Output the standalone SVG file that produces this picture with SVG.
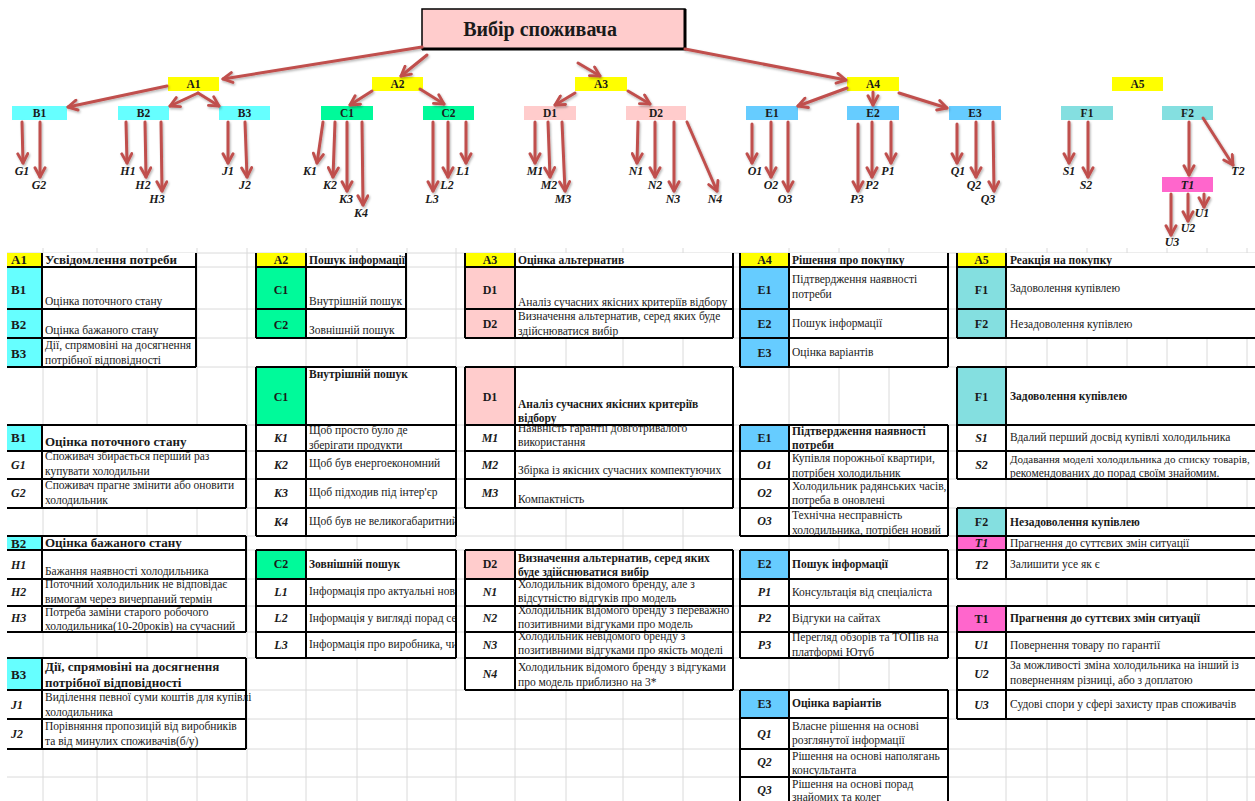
<svg xmlns="http://www.w3.org/2000/svg" width="1255" height="801" viewBox="0 0 1255 801">
<style>
.s{font-family:"Liberation Serif","Times New Roman",serif;fill:#1a1a1a}
.r{font-size:11.5px}
.hb{font-size:11.5px;font-weight:bold}
.h13{font-size:13px;font-weight:bold}
.pid{font-size:12px;font-weight:bold;text-anchor:middle}
.lid{font-size:12px;font-weight:bold;font-style:italic;text-anchor:middle}
.pidL{font-size:13px;font-weight:bold}
.lidL{font-size:12px;font-weight:bold;font-style:italic}
.nd{font-size:11.5px;font-weight:bold;text-anchor:middle}
.lf{font-size:12px;font-weight:bold;font-style:italic;text-anchor:middle}
.y{fill:#ffff00}.cy{fill:#66ffff}.gr{fill:#00fa9a}.pk{fill:#ffcccc}.bl{fill:#66ccff}.aq{fill:#84dfe0}.mg{fill:#ff66cc}.wh{fill:#fff}
.bd{fill:none;stroke:#000;stroke-width:2}
.grid{fill:none;stroke:#dadada;stroke-width:1}
.arr line{stroke:#c0504d;stroke-width:3;stroke-linecap:round;marker-end:url(#ah)}
</style>
<defs>
<marker id="ah" viewBox="0 0 10 10" refX="8.5" refY="5" markerWidth="4.4" markerHeight="4.4" orient="auto" markerUnits="strokeWidth">
<path d="M1.5,1.2 L8.5,5 L1.5,8.8" fill="none" stroke="#c0504d" stroke-width="2.2" stroke-linecap="round" stroke-linejoin="round"/>
</marker>
<filter id="sh" filterUnits="userSpaceOnUse" x="0" y="0" width="1255" height="260">
<feDropShadow dx="1" dy="1.5" stdDeviation="1" flood-color="#000" flood-opacity="0.3"/>
</filter>
<clipPath id="clipA2"><rect x="306" y="250" width="100" height="20"/></clipPath>
<clipPath id="clipC"><rect x="306" y="360" width="150" height="300"/></clipPath>
<clipPath id="clipD1h"><rect x="515" y="367" width="218" height="57"/></clipPath>
</defs>
<rect width="1255" height="801" fill="#fff"/>

<!-- spreadsheet gridlines -->
<path class="grid" d="M7,253H1255M7,267H1255M7,309H1255M7,338H1255M7,367H1255M7,425H1255M7,451H1255M7,479H1255M7,508H1255M7,536H1255M7,550H1255M7,579H1255M7,606H1255M7,632H1255M7,658H1255M7,690H1255M7,719H1255M7,749H1255M7,777H1255
M43,248V801M97,248V801M147,248V801M197,248V801M247,248V801M306,248V801M357,248V801M407,248V801M456,248V801M515,248V801M566,248V801M623,248V801M683,248V801M789,248V801M839,248V801M889,248V801M1006,248V801M1047,248V801M1087,248V801M1127,248V801M1167,248V801M1207,248V801M1247,248V801"/>

<!-- title -->
<g id="title">
<rect x="422" y="9" width="263" height="40" class="pk" stroke="#000" stroke-width="1.5"/>
<path d="M685,9V49H422" fill="none" stroke="#000" stroke-width="3"/>
<text class="s" x="540" y="36" font-size="20" font-weight="bold" text-anchor="middle">Вибір споживача</text>
</g>

<!-- tree nodes -->
<g id="n-a1"><rect class="y" x="168" y="77" width="51" height="14"/><text class="s nd" x="193.5" y="88">A1</text></g>
<g id="n-a2"><rect class="y" x="372" y="77" width="51" height="14"/><text class="s nd" x="397.5" y="88">A2</text></g>
<g id="n-a3"><rect class="y" x="575" y="77" width="52" height="14"/><text class="s nd" x="601" y="88">A3</text></g>
<g id="n-a4"><rect class="y" x="847" y="77" width="52" height="14"/><text class="s nd" x="873" y="88">A4</text></g>
<g id="n-a5"><rect class="y" x="1112" y="77" width="51" height="14"/><text class="s nd" x="1137.5" y="88">A5</text></g>
<g id="n-b1"><rect class="cy" x="12" y="106" width="55" height="14"/><text class="s nd" x="39.5" y="117">B1</text></g>
<g id="n-b2"><rect class="cy" x="118" y="106" width="51" height="14"/><text class="s nd" x="143.5" y="117">B2</text></g>
<g id="n-b3"><rect class="cy" x="219" y="106" width="51" height="14"/><text class="s nd" x="244.5" y="117">B3</text></g>
<g id="n-c1"><rect class="gr" x="321" y="106" width="52" height="14"/><text class="s nd" x="347" y="117">C1</text></g>
<g id="n-c2"><rect class="gr" x="423" y="106" width="51" height="14"/><text class="s nd" x="448.5" y="117">C2</text></g>
<g id="n-d1"><rect class="pk" x="524" y="106" width="52" height="14"/><text class="s nd" x="550" y="117">D1</text></g>
<g id="n-d2"><rect class="pk" x="626" y="106" width="60" height="14"/><text class="s nd" x="656" y="117">D2</text></g>
<g id="n-e1"><rect class="bl" x="746" y="106" width="52" height="14"/><text class="s nd" x="772" y="117">E1</text></g>
<g id="n-e2"><rect class="bl" x="847" y="106" width="52" height="14"/><text class="s nd" x="873" y="117">E2</text></g>
<g id="n-e3"><rect class="bl" x="949" y="106" width="52" height="14"/><text class="s nd" x="975" y="117">E3</text></g>
<g id="n-f1"><rect class="aq" x="1061" y="106" width="52" height="14"/><text class="s nd" x="1087" y="117">F1</text></g>
<g id="n-f2"><rect class="aq" x="1162" y="106" width="51" height="14"/><text class="s nd" x="1187.5" y="117">F2</text></g>
<g id="n-t1"><rect class="mg" x="1162" y="177" width="51" height="15"/><text class="s lf" x="1187.5" y="189">T1</text></g>

<!-- leaf labels -->
<g id="leaves">
<text class="s lf" x="22" y="175">G1</text><text class="s lf" x="39" y="189">G2</text>
<text class="s lf" x="128" y="175">H1</text><text class="s lf" x="143" y="189">H2</text><text class="s lf" x="157" y="203">H3</text>
<text class="s lf" x="228" y="175">J1</text><text class="s lf" x="245" y="189">J2</text>
<text class="s lf" x="310" y="175">K1</text><text class="s lf" x="330" y="189">K2</text><text class="s lf" x="346" y="203">K3</text><text class="s lf" x="361" y="217">K4</text>
<text class="s lf" x="463" y="175">L1</text><text class="s lf" x="447" y="189">L2</text><text class="s lf" x="432" y="203">L3</text>
<text class="s lf" x="535" y="175">M1</text><text class="s lf" x="549" y="189">M2</text><text class="s lf" x="563" y="203">M3</text>
<text class="s lf" x="636" y="175">N1</text><text class="s lf" x="655" y="189">N2</text><text class="s lf" x="673" y="203">N3</text><text class="s lf" x="715" y="203">N4</text>
<text class="s lf" x="755" y="175">O1</text><text class="s lf" x="771" y="189">O2</text><text class="s lf" x="785" y="203">O3</text>
<text class="s lf" x="888" y="175">P1</text><text class="s lf" x="872" y="189">P2</text><text class="s lf" x="857" y="203">P3</text>
<text class="s lf" x="958" y="175">Q1</text><text class="s lf" x="974" y="189">Q2</text><text class="s lf" x="988" y="203">Q3</text>
<text class="s lf" x="1069" y="175">S1</text><text class="s lf" x="1086" y="189">S2</text>
<text class="s lf" x="1238" y="175">T2</text>
<text class="s lf" x="1202" y="217">U1</text><text class="s lf" x="1188" y="232">U2</text><text class="s lf" x="1172" y="246">U3</text>
</g>

<!-- connectors -->
<g id="connectors" class="arr" filter="url(#sh)">
<line x1="422" y1="47" x2="223" y2="79"/>
<line x1="427" y1="55" x2="401" y2="76"/>
<line x1="578" y1="63" x2="600" y2="76"/>
<line x1="685" y1="49" x2="846" y2="80"/>
<line x1="167" y1="86" x2="68" y2="107"/>
<line x1="198" y1="93" x2="170" y2="106"/>
<line x1="198" y1="93" x2="219" y2="106"/>
<line x1="372" y1="91" x2="350" y2="105"/>
<line x1="420" y1="89" x2="444" y2="104"/>
<line x1="575" y1="93" x2="555" y2="105"/>
<line x1="628" y1="91" x2="650" y2="104"/>
<line x1="847" y1="88" x2="798" y2="106"/>
<line x1="873" y1="92" x2="873" y2="105"/>
<line x1="899" y1="93" x2="947" y2="108"/>
<line x1="22" y1="122" x2="23" y2="163"/>
<line x1="40" y1="122" x2="40" y2="177"/>
<line x1="126" y1="122" x2="127" y2="163"/>
<line x1="145" y1="122" x2="146" y2="177"/>
<line x1="161" y1="122" x2="162" y2="191"/>
<line x1="228" y1="122" x2="228" y2="163"/>
<line x1="245" y1="122" x2="247" y2="177"/>
<line x1="323" y1="122" x2="317" y2="163"/>
<line x1="335" y1="122" x2="333" y2="177"/>
<line x1="347" y1="122" x2="347" y2="191"/>
<line x1="362" y1="122" x2="363" y2="205"/>
<line x1="433" y1="122" x2="433" y2="191"/>
<line x1="448" y1="122" x2="448" y2="177"/>
<line x1="466" y1="122" x2="466" y2="163"/>
<line x1="535" y1="122" x2="535" y2="163"/>
<line x1="548" y1="122" x2="550" y2="177"/>
<line x1="562" y1="122" x2="565" y2="191"/>
<line x1="638" y1="122" x2="637" y2="163"/>
<line x1="655" y1="122" x2="655" y2="177"/>
<line x1="674" y1="122" x2="674" y2="191"/>
<line x1="687" y1="122" x2="717" y2="191"/>
<line x1="752" y1="124" x2="752" y2="163"/>
<line x1="771" y1="122" x2="771" y2="177"/>
<line x1="788" y1="122" x2="788" y2="191"/>
<line x1="858" y1="124" x2="858" y2="191"/>
<line x1="872" y1="122" x2="872" y2="177"/>
<line x1="891" y1="122" x2="891" y2="163"/>
<line x1="957" y1="124" x2="957" y2="163"/>
<line x1="976" y1="122" x2="976" y2="177"/>
<line x1="993" y1="122" x2="994" y2="191"/>
<line x1="1069" y1="122" x2="1069" y2="163"/>
<line x1="1088" y1="122" x2="1088" y2="177"/>
<line x1="1189" y1="122" x2="1189" y2="175"/>
<line x1="1203" y1="118" x2="1233" y2="165"/>
<line x1="1171" y1="194" x2="1171" y2="235"/>
<line x1="1188" y1="194" x2="1188" y2="221"/>
<line x1="1204" y1="194" x2="1204" y2="207"/>
</g>

<!-- column 1 tables -->
<g id="tbl-a1">
<rect class="wh" x="7" y="253" width="189" height="114"/>
<rect class="y" x="7" y="253" width="35" height="14"/>
<rect class="cy" x="7" y="267" width="35" height="100"/>
<text class="s pidL" x="11" y="264">A1</text>
<text class="s h13" x="45" y="264">Усвідомлення потреби</text>
<text class="s pidL" x="11" y="294">B1</text>
<text class="s r" x="45" y="305">Оцінка поточного стану</text>
<text class="s pidL" x="11" y="329">B2</text>
<text class="s r" x="45" y="334">Оцінка бажаного стану</text>
<text class="s pidL" x="11" y="358">B3</text>
<text class="s r" x="45" y="349">Дії, спрямовіні на досягнення</text>
<text class="s r" x="45" y="364">потрібної відповідності</text>
<path class="bd" d="M7,267H196M7,309H196M7,338H196M7,367H196M42,253V367M196,253V367"/>
</g>
<g id="tbl-b1">
<rect class="wh" x="7" y="425" width="239" height="83"/>
<rect class="cy" x="7" y="425" width="35" height="26"/>
<text class="s pidL" x="11" y="442">B1</text>
<text class="s h13" x="45" y="446">Оцінка поточного стану</text>
<text class="s lidL" x="11" y="469">G1</text>
<text class="s r" x="45" y="460">Споживач збирається перший раз</text>
<text class="s r" x="45" y="475">купувати холодильни</text>
<text class="s lidL" x="11" y="497">G2</text>
<text class="s r" x="45" y="489">Споживач прагне змінити або оновити</text>
<text class="s r" x="45" y="504">холодильник</text>
<path class="bd" d="M7,425H246M7,451H246M7,479H246M7,508H246M42,425V508M246,425V508"/>
</g>
<g id="tbl-b2">
<rect class="wh" x="7" y="536" width="239" height="96"/>
<rect class="cy" x="7" y="536" width="35" height="14"/>
<text class="s pidL" x="11" y="548">B2</text>
<text class="s h13" x="45" y="547">Оцінка бажаного стану</text>
<text class="s lidL" x="11" y="569">H1</text>
<rect class="wh" x="43" y="551" width="202" height="27"/>
<text class="s r" x="45" y="575">Бажання наявності холодильника</text>
<text class="s lidL" x="11" y="596">H2</text>
<text class="s r" x="45" y="588">Поточний холодильник не відповідає</text>
<text class="s r" x="45" y="603">вимогам через вичерпаний термін</text>
<rect class="wh" x="43" y="607" width="202" height="24"/>
<text class="s lidL" x="11" y="622">H3</text>
<text class="s r" x="45" y="616">Потреба заміни старого робочого</text>
<text class="s r" x="45" y="630">холодильника(10-20років) на сучасний</text>
<path class="bd" d="M7,536H246M7,550H246M7,579H246M7,606H246M7,632H246M42,536V632M246,536V632"/>
</g>
<g id="tbl-b3">
<rect class="wh" x="7" y="658" width="239" height="91"/>
<rect class="cy" x="7" y="658" width="35" height="32"/>
<text class="s pidL" x="11" y="679">B3</text>
<text class="s h13" x="45" y="671">Дії, спрямовіні на досягнення</text>
<text class="s h13" x="45" y="687">потрібної відповідності</text>
<text class="s lidL" x="11" y="709">J1</text>
<text class="s r" x="45" y="701">Виділення певної суми коштів для купівлі</text>
<text class="s r" x="45" y="716">холодильника</text>
<text class="s lidL" x="11" y="738">J2</text>
<text class="s r" x="45" y="730">Порівняння пропозицій від виробників</text>
<text class="s r" x="45" y="745">та від минулих споживачів(б/у)</text>
<path class="bd" d="M7,658H246M7,690H246M7,719H246M7,749H246M42,658V749M246,658V749"/>
</g>

<!-- column 2 tables -->
<g id="tbl-a2">
<rect class="wh" x="256" y="253" width="150" height="85"/>
<rect class="y" x="256" y="253" width="50" height="14"/>
<rect class="gr" x="256" y="267" width="50" height="71"/>
<text class="s pid" x="281" y="264">A2</text>
<text class="s hb" x="309" y="264" clip-path="url(#clipA2)">Пошук інформації</text>
<text class="s pid" x="281" y="294">C1</text>
<text class="s r" x="309" y="305">Внутрішній пошук</text>
<text class="s pid" x="281" y="329">C2</text>
<text class="s r" x="309" y="334">Зовнішній пошук</text>
<path class="bd" d="M256,253V338M306,253V338M406,253V338M256,267H406M256,309H406M256,338H406"/>
</g>
<g id="tbl-c1">
<rect class="wh" x="256" y="367" width="200" height="169"/>
<rect class="gr" x="256" y="367" width="50" height="58"/>
<text class="s pid" x="281" y="401">C1</text>
<text class="s hb" x="309" y="378">Внутрішній пошук</text>
<text class="s lid" x="281" y="442">K1</text>
<text class="s r" x="309" y="434">Щоб просто було де</text>
<text class="s r" x="309" y="449">зберігати продукти</text>
<rect class="wh" x="307" y="452" width="148" height="26"/>
<text class="s lid" x="281" y="469">K2</text>
<text class="s r" x="309" y="467">Щоб був енергоекономний</text>
<text class="s lid" x="281" y="497">K3</text>
<text class="s r" x="309" y="496">Щоб підходив під інтер'єр</text>
<text class="s lid" x="281" y="526">K4</text>
<text class="s r" x="309" y="525" font-size="11.2" clip-path="url(#clipC)">Щоб був не великогабаритний</text>
<path class="bd" d="M256,367H456M256,425H456M256,451H456M256,479H456M256,508H456M256,536H456M256,367V536M306,367V536M456,367V536"/>
</g>
<g id="tbl-c2">
<rect class="wh" x="256" y="550" width="200" height="108"/>
<rect class="gr" x="256" y="550" width="50" height="29"/>
<text class="s pid" x="281" y="568">C2</text>
<text class="s hb" x="309" y="568">Зовнішній пошук</text>
<text class="s lid" x="281" y="596">L1</text>
<text class="s r" x="309" y="595" clip-path="url(#clipC)">Інформація про актуальні нові</text>
<text class="s lid" x="281" y="622">L2</text>
<text class="s r" x="309" y="622" clip-path="url(#clipC)">Інформація у вигляді порад се</text>
<text class="s lid" x="281" y="649">L3</text>
<text class="s r" x="309" y="648" clip-path="url(#clipC)">Інформація про виробника, чи</text>
<path class="bd" d="M256,550H456M256,579H456M256,606H456M256,632H456M256,658H456M256,550V658M306,550V658M456,550V658"/>
</g>

<!-- column 3 tables -->
<g id="tbl-a3">
<rect class="wh" x="465" y="253" width="268" height="85"/>
<rect class="y" x="465" y="253" width="50" height="14"/>
<rect class="pk" x="465" y="267" width="50" height="71"/>
<text class="s pid" x="490" y="264">A3</text>
<text class="s hb" x="518" y="264">Оцінка альтернатив</text>
<text class="s pid" x="490" y="294">D1</text>
<text class="s r" x="518" y="306">Аналіз сучасних якісних критеріїв відбору</text>
<text class="s pid" x="490" y="328">D2</text>
<text class="s r" x="518" y="320">Визначення альтернатив, серед яких буде</text>
<text class="s r" x="518" y="335">здійснюватися вибір</text>
<path class="bd" d="M465,253V338M515,253V338M733,253V338M465,267H733M465,309H733M465,338H733"/>
</g>
<g id="tbl-d1">
<rect class="wh" x="465" y="367" width="268" height="141"/>
<rect class="pk" x="465" y="367" width="50" height="58"/>
<text class="s pid" x="490" y="401">D1</text>
<g clip-path="url(#clipD1h)">
<text class="s hb" x="518" y="408">Аналіз сучасних якісних критеріїв</text>
<text class="s hb" x="518" y="422">відбору</text>
</g>
<rect class="wh" x="516" y="426" width="216" height="24"/>
<text class="s lid" x="490" y="442">M1</text>
<text class="s r" x="518" y="432">Наявність гарантії довготривалого</text>
<text class="s r" x="518" y="446">використання</text>
<text class="s lid" x="490" y="469">M2</text>
<text class="s r" x="518" y="474">Збірка із якісних сучасних компектуючих</text>
<text class="s lid" x="490" y="497">M3</text>
<text class="s r" x="518" y="503">Компактність</text>
<path class="bd" d="M465,367H733M465,425H733M465,451H733M465,479H733M465,508H733M465,367V508M515,367V508M733,367V508"/>
</g>
<g id="tbl-d2">
<rect class="wh" x="465" y="550" width="268" height="140"/>
<rect class="pk" x="465" y="550" width="50" height="29"/>
<text class="s pid" x="490" y="568">D2</text>
<text class="s hb" x="518" y="562">Визначення альтернатив, серед яких</text>
<text class="s hb" x="518" y="576">буде здійснюватися вибір</text>
<rect class="wh" x="516" y="580" width="216" height="25"/>
<text class="s lid" x="490" y="596">N1</text>
<text class="s r" x="518" y="588">Холодильник відомого бренду, але з</text>
<text class="s r" x="518" y="602">відсутністю відгуків про модель</text>
<rect class="wh" x="516" y="607" width="216" height="24"/>
<text class="s lid" x="490" y="622">N2</text>
<text class="s r" x="518" y="614">Холодильник відомого бренду з переважно</text>
<text class="s r" x="518" y="628">позитивними відгуками про модель</text>
<rect class="wh" x="516" y="633" width="216" height="24"/>
<text class="s lid" x="490" y="649">N3</text>
<text class="s r" x="518" y="640">Холодильник невідомого бренду з</text>
<text class="s r" x="518" y="654">позитивними відгуками про якість моделі</text>
<text class="s lid" x="490" y="678">N4</text>
<text class="s r" x="518" y="671">Холодильник відомого бренду з відгуками</text>
<text class="s r" x="518" y="686">про модель приблизно на 3*</text>
<path class="bd" d="M465,550H733M465,579H733M465,606H733M465,632H733M465,658H733M465,690H733M465,550V690M515,550V690M733,550V690"/>
</g>

<!-- column 4 tables -->
<g id="tbl-a4">
<rect class="wh" x="740" y="253" width="208" height="114"/>
<rect class="y" x="740" y="253" width="49" height="14"/>
<rect class="bl" x="740" y="267" width="49" height="100"/>
<text class="s pid" x="764.5" y="264">A4</text>
<text class="s hb" x="792" y="264">Рішення про покупку</text>
<text class="s pid" x="764.5" y="294">E1</text>
<text class="s r" x="792" y="283">Підтвердження наявності</text>
<text class="s r" x="792" y="298">потреби</text>
<text class="s pid" x="764.5" y="328">E2</text>
<text class="s r" x="792" y="327">Пошук інформації</text>
<text class="s pid" x="764.5" y="357">E3</text>
<text class="s r" x="792" y="356">Оцінка варіантів</text>
<path class="bd" d="M740,253V367M789,253V367M948,253V367M740,267H948M740,309H948M740,338H948M740,367H948"/>
</g>
<g id="tbl-e1">
<rect class="wh" x="740" y="425" width="208" height="111"/>
<rect class="bl" x="740" y="425" width="49" height="26"/>
<text class="s pid" x="764.5" y="442">E1</text>
<text class="s hb" x="792" y="435">Підтвердження наявності</text>
<text class="s hb" x="792" y="449">потреби</text>
<rect class="wh" x="790" y="452" width="157" height="26"/>
<text class="s lid" x="764.5" y="469">O1</text>
<text class="s r" x="792" y="462">Купівля порожньої квартири,</text>
<text class="s r" x="792" y="477">потрібен холодильник</text>
<rect class="wh" x="790" y="480" width="157" height="27"/>
<text class="s lid" x="764.5" y="497">O2</text>
<text class="s r" x="792" y="490">Холодильник радянських часів,</text>
<text class="s r" x="792" y="504">потреба в оновлені</text>
<rect class="wh" x="790" y="509" width="157" height="26"/>
<text class="s lid" x="764.5" y="525">O3</text>
<text class="s r" x="792" y="519">Технічна несправність</text>
<text class="s r" x="792" y="534">холодильника, потрібен новий</text>
<path class="bd" d="M740,425H948M740,451H948M740,479H948M740,508H948M740,536H948M740,425V536M789,425V536M948,425V536"/>
</g>
<g id="tbl-e2">
<rect class="wh" x="740" y="550" width="208" height="108"/>
<rect class="bl" x="740" y="550" width="49" height="29"/>
<text class="s pid" x="764.5" y="568">E2</text>
<text class="s hb" x="792" y="568">Пошук інформації</text>
<text class="s lid" x="764.5" y="596">P1</text>
<text class="s r" x="792" y="596">Консультація від спеціаліста</text>
<text class="s lid" x="764.5" y="622">P2</text>
<text class="s r" x="792" y="622">Відгуки на сайтах</text>
<text class="s lid" x="764.5" y="649">P3</text>
<text class="s r" x="792" y="641">Перегляд обзорів та ТОПів на</text>
<text class="s r" x="792" y="656">платформі Ютуб</text>
<path class="bd" d="M740,550H948M740,579H948M740,606H948M740,632H948M740,658H948M740,550V658M789,550V658M948,550V658"/>
</g>
<g id="tbl-e3">
<rect class="wh" x="740" y="690" width="208" height="111"/>
<rect class="bl" x="740" y="690" width="49" height="28"/>
<text class="s pid" x="764.5" y="708">E3</text>
<text class="s hb" x="792" y="707">Оцінка варіантів</text>
<rect class="wh" x="790" y="719" width="157" height="29"/>
<text class="s lid" x="764.5" y="738">Q1</text>
<text class="s r" x="792" y="730">Власне рішення на основі</text>
<text class="s r" x="792" y="744">розглянутої інформації</text>
<rect class="wh" x="790" y="750" width="157" height="26"/>
<text class="s lid" x="764.5" y="766">Q2</text>
<text class="s r" x="792" y="760">Рішення на основі наполягань</text>
<text class="s r" x="792" y="774">консультанта</text>
<text class="s lid" x="764.5" y="794">Q3</text>
<text class="s r" x="792" y="788">Рішення на основі порад</text>
<text class="s r" x="792" y="801">знайомих та колег</text>
<path class="bd" d="M740,690H948M740,718H948M740,749H948M740,777H948M740,690V801M789,690V801M948,690V801"/>
</g>

<!-- column 5 tables -->
<g id="tbl-a5">
<rect class="wh" x="957" y="253" width="298" height="85"/>
<rect class="y" x="957" y="253" width="49" height="14"/>
<rect class="aq" x="957" y="267" width="49" height="71"/>
<text class="s pid" x="981.5" y="264">A5</text>
<text class="s hb" x="1010" y="264">Реакція на покупку</text>
<text class="s pid" x="981.5" y="294">F1</text>
<text class="s r" x="1010" y="292">Задоволення купівлею</text>
<text class="s pid" x="981.5" y="328">F2</text>
<text class="s r" x="1010" y="328">Незадоволення купівлею</text>
<path class="bd" d="M957,253V338M1006,253V338M957,267H1255M957,309H1255M957,338H1255"/>
</g>
<g id="tbl-f1">
<rect class="wh" x="957" y="367" width="298" height="112"/>
<rect class="aq" x="957" y="367" width="49" height="58"/>
<text class="s pid" x="981.5" y="401">F1</text>
<text class="s hb" x="1010" y="400">Задоволення купівлею</text>
<text class="s lid" x="981.5" y="442">S1</text>
<text class="s r" x="1010" y="441">Вдалий перший досвід купівлі холодильника</text>
<text class="s lid" x="981.5" y="469">S2</text>
<text class="s" x="1010" y="463" font-size="11">Додавання моделі холодильника до списку товарів,</text>
<text class="s r" x="1010" y="477">рекомендованих до порад своїм знайомим.</text>
<path class="bd" d="M957,367H1255M957,425H1255M957,451H1255M957,479H1255M957,367V479M1006,367V479"/>
</g>
<g id="tbl-f2">
<rect class="wh" x="957" y="508" width="298" height="71"/>
<rect class="aq" x="957" y="508" width="49" height="28"/>
<rect class="mg" x="957" y="536" width="49" height="14"/>
<text class="s pid" x="981.5" y="526">F2</text>
<text class="s hb" x="1010" y="526">Незадоволення купівлею</text>
<text class="s lid" x="981.5" y="547">T1</text>
<text class="s r" x="1010" y="547">Прагнення до суттєвих змін ситуації</text>
<text class="s lid" x="981.5" y="569">T2</text>
<text class="s r" x="1010" y="568">Залишити усе як є</text>
<path class="bd" d="M957,508H1255M957,536H1255M957,550H1255M957,579H1255M957,508V579M1006,508V579"/>
</g>
<g id="tbl-t1">
<rect class="wh" x="957" y="606" width="298" height="113"/>
<rect class="mg" x="957" y="606" width="49" height="26"/>
<text class="s pid" x="981.5" y="623">T1</text>
<text class="s hb" x="1010" y="622">Прагнення до суттєвих змін ситуації</text>
<text class="s lid" x="981.5" y="649">U1</text>
<text class="s r" x="1010" y="649">Повернення товару по гарантії</text>
<text class="s lid" x="981.5" y="678">U2</text>
<text class="s r" x="1010" y="669">За можливості зміна холодильника на інший із</text>
<text class="s r" x="1010" y="684">поверненням різниці, або з доплатою</text>
<text class="s lid" x="981.5" y="709">U3</text>
<text class="s r" x="1010" y="708">Судові спори у сфері захисту прав споживачів</text>
<path class="bd" d="M957,606H1255M957,632H1255M957,658H1255M957,690H1255M957,719H1255M957,606V719M1006,606V719"/>
</g>
</svg>
